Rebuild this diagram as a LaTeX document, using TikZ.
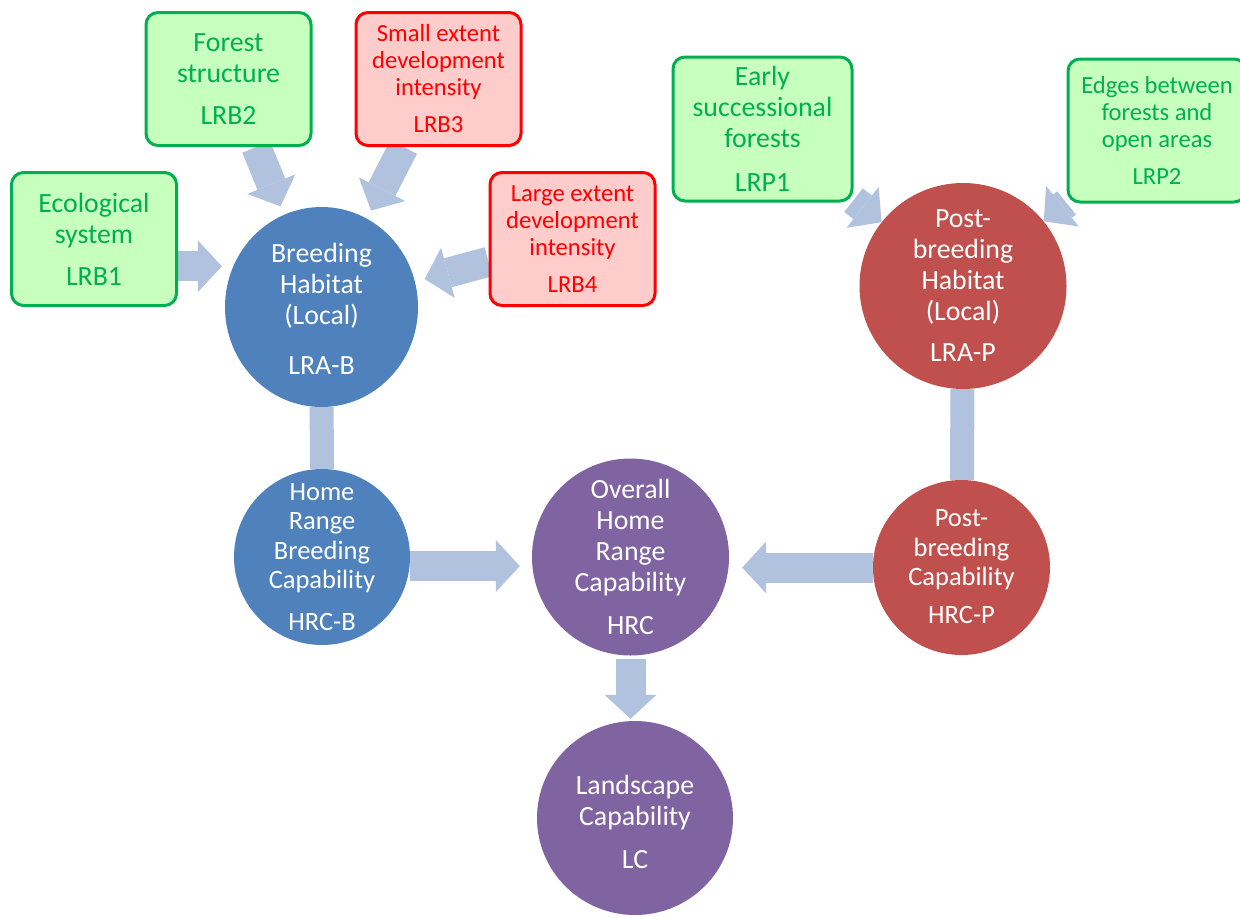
\documentclass[tikz,border=0pt]{standalone}
\usepackage{fontspec}
\setmainfont{Carlito}
\usetikzlibrary{arrows.meta,shapes.geometric,backgrounds}
\definecolor{gfill}{RGB}{198,255,190}
\definecolor{gline}{RGB}{0,176,80}
\definecolor{rfill}{RGB}{255,204,204}
\definecolor{rline}{RGB}{255,0,0}
\definecolor{bblue}{RGB}{79,129,189}
\definecolor{rred}{RGB}{192,80,77}
\definecolor{ppurple}{RGB}{128,100,162}
\definecolor{arrowc}{RGB}{176,194,222}
\begin{document}
\begin{tikzpicture}[x=1pt,y=-1pt,
  gbox/.style={draw=gline, fill=gfill, line width=3pt, rounded corners=12pt,
    minimum width=165pt, minimum height=133pt, inner sep=0pt},
  rbox/.style={gbox, draw=rline, fill=rfill},
  gtext/.style={text=gline, align=center, inner sep=0pt},
  rtext/.style={text=rline, align=center, inner sep=0pt},
  wtext/.style={text=white, align=center, inner sep=0pt},
  blob/.style={ellipse, inner sep=0pt},
  big/.style={font=\fontsize{27.8}{31}\selectfont},
  mid/.style={font=\fontsize{26.5}{29.5}\selectfont},
  small/.style={font=\fontsize{24.6}{27}\selectfont},
  fat/.style={draw=arrowc, line width=30pt,
    -{Triangle[length=24pt,width=52pt,line width=0pt]}},
  bar/.style={draw=arrowc, line width=24pt}]
\useasboundingbox (0,0) rectangle (1240,916);

% boxes
\node[gbox] (LRB1) at (94,239) {};
\node[gtext,big] (LRB1t) at (LRB1) {Ecological\\system\\[11pt]LRB1};
\node[gbox] (LRB2) at (228.5,79) {};
\node[gtext,big] (LRB2t) at (LRB2) {Forest\\structure\\[11pt]LRB2};
\node[rbox] (LRB3) at (438.5,79) {};
\node[rtext,small] (LRB3t) at (LRB3) {Small extent\\development\\intensity\\[10pt]LRB3};
\node[rbox] (LRB4) at (572.5,239) {};
\node[rtext,small] (LRB4t) at (LRB4) {Large extent\\development\\intensity\\[10pt]LRB4};
\node[gbox,minimum width=179pt,minimum height=144pt] (LRP1) at (762.5,129) {};
\node[gtext,big] (LRP1t) at (LRP1) {Early\\successional\\forests\\[13pt]LRP1};
\node[gbox,minimum width=178pt,minimum height=143pt] (LRP2) at (1157,130.5) {};
\node[gtext,small] (LRP2t) at (LRP2) {Edges between\\forests and\\open areas\\[10pt]LRP2};

% ellipses
\node[blob,fill=bblue,minimum width=193pt,minimum height=200pt] (LRAB) at (321.5,307) {};
\node[wtext,big] (LRABt) at ([yshift=-2pt]LRAB) {Breeding\\Habitat\\(Local)\\[19pt]LRA-B};
\node[blob,fill=rred,minimum width=207pt,minimum height=206pt] (LRAP) at (963,286) {};
\node[wtext,big] (LRAPt) at (LRAP) {Post-\\breeding\\Habitat\\(Local)\\[10pt]LRA-P};
\node[blob,fill=bblue,minimum width=176pt,minimum height=176pt] (HRCB) at (322,557) {};
\node[wtext,mid] (HRCBt) at (HRCB) {Home\\Range\\Breeding\\Capability\\[12pt]HRC-B};
\node[blob,fill=ppurple,minimum width=197pt,minimum height=197pt] (HRC) at (630.5,557) {};
\node[wtext,big] (HRCt) at (HRC) {Overall\\Home\\Range\\Capability\\[12pt]HRC};
\node[blob,fill=rred,minimum width=177pt,minimum height=175pt] (HRCP) at (961.5,567.5) {};
\node[wtext,mid] (HRCPt) at ([yshift=1pt]HRCP) {Post-\\breeding\\Capability\\[8pt]HRC-P};
\node[blob,fill=ppurple,minimum width=196pt,minimum height=194pt] (LC) at (635,818) {};
\node[wtext,big] (LCt) at ([yshift=-4pt]LC) {Landscape\\Capability\\[12pt]LC};

% connectors
\begin{scope}[on background layer]
\draw[fat,shorten >=3pt] (LRB1.-18) -- (LRB1.-18 -| LRAB.west);
\draw[fat,shorten >=9pt] (LRB2) -- (LRAB);
\draw[fat,shorten >=9pt] (LRB3) -- (LRAB);
\draw[fat,shorten >=10pt] (LRB4) -- (LRAB);
\draw[fat] (LRP1) -- (LRAP);
\draw[fat] (LRP2) -- (LRAP);
\draw[bar] (LRAB) -- (HRCB);
\draw[bar] (LRAP) -- (HRCP);
\draw[fat,shorten >=12pt] ([yshift=-9pt]HRCB.east) -- ([yshift=-9pt]HRCB.east -| HRC.west);
\draw[fat,shorten >=13pt] (HRCP.west) -- (HRCP.west -| HRC.east);
\draw[fat,shorten <=3pt,shorten >=2pt] (HRC.south) -- (HRC.south |- LC.north);
\end{scope}
\end{tikzpicture}
\end{document}
